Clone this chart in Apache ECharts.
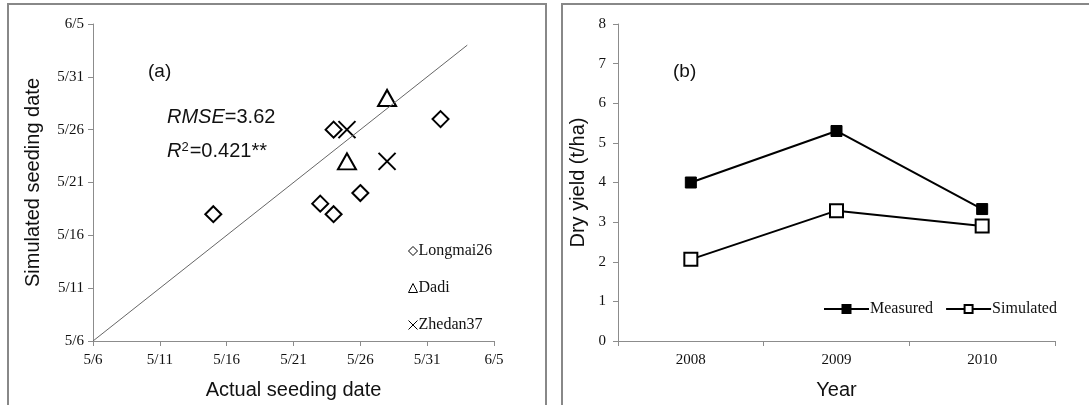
<!DOCTYPE html>
<html>
<head>
<meta charset="utf-8">
<title>Seeding date and dry yield</title>
<script src="https://cdn.jsdelivr.net/npm/echarts@6/dist/echarts.min.js"></script>
<style>
  html, body { margin: 0; padding: 0; background: #fff; }
  #chart { width: 1089px; height: 405px; }
</style>
</head>
<body>
<div id="chart"></div>
<script>
// Panel (a): actual vs simulated seeding date, as [actual, simulated] month/day pairs
const dateTicks = ['5/6', '5/11', '5/16', '5/21', '5/26', '5/31', '6/5'];
const longmai26 = [['5/15', '5/18'], ['5/24', '5/26'], ['5/23', '5/19'], ['5/24', '5/18'], ['5/26', '5/20'], ['6/1', '5/27']];
const dadi = [['5/28', '5/29'], ['5/25', '5/23']];
const zhedan37 = [['5/25', '5/26'], ['5/28', '5/23']];
const oneToOne = [['5/6', '5/6'], ['6/3', '6/3']];

// Panel (b): dry yield by year (t/ha)
const years = ['2008', '2009', '2010'];
const measured = [4.0, 5.3, 3.33];
const simulated = [2.06, 3.29, 2.9];

// Day offset from the first tick date (5/6)
const monthStart = { 5: 0, 6: 31 };
function dayOffset(md) {
  const [m, d] = md.split('/').map(Number);
  return monthStart[m] + d - 6;
}
function toXY(pairs) { return pairs.map(p => [dayOffset(p[0]), dayOffset(p[1])]); }
const tickByOffset = {};
dateTicks.forEach(t => { tickByOffset[dayOffset(t)] = t; });

const serif = 'Liberation Serif';
const sans = 'Liberation Sans';
const axisGray = '#8c8c8c';

const crossPath = 'path://M0,0L10,10M10,0L0,10';

function valueAxisCommon() {
  return {
    axisLine: { show: true, lineStyle: { color: axisGray, width: 1 } },
    axisTick: { show: true, inside: false, length: 5, lineStyle: { color: axisGray } },
    splitLine: { show: false },
    axisLabel: { fontFamily: serif, fontSize: 15, color: '#111' },
    nameTextStyle: { fontFamily: sans, fontSize: 20, color: '#111' },
    nameLocation: 'middle'
  };
}

const chart = echarts.init(document.getElementById('chart'), null, { renderer: 'canvas' });

const option = {
  animation: false,
  backgroundColor: '#fff',
  grid: [
    { left: 93, top: 24, width: 401, height: 319 },
    { left: 618, top: 24, width: 437, height: 319 }
  ],
  xAxis: [
    Object.assign(valueAxisCommon(), {
      type: 'value', gridIndex: 0, min: 0, max: 30, interval: 5,
      name: 'Actual seeding date', nameGap: 39,
      axisLabel: { fontFamily: serif, fontSize: 15, color: '#111', margin: 12,
        formatter: v => tickByOffset[v] || '' }
    }),
    Object.assign(valueAxisCommon(), {
      type: 'category', gridIndex: 1, data: years, boundaryGap: true,
      name: 'Year', nameGap: 39,
      axisLabel: { fontFamily: serif, fontSize: 15, color: '#111', margin: 12 }
    })
  ],
  yAxis: [
    Object.assign(valueAxisCommon(), {
      type: 'value', gridIndex: 0, min: 0, max: 30, interval: 5,
      name: 'Simulated seeding date', nameGap: 50,
      axisLabel: { fontFamily: serif, fontSize: 15, color: '#111', margin: 9,
        formatter: v => tickByOffset[v] || '' }
    }),
    Object.assign(valueAxisCommon(), {
      type: 'value', gridIndex: 1, min: 0, max: 8, interval: 1,
      name: 'Dry yield (t/ha)', nameGap: 30,
      axisLabel: { fontFamily: serif, fontSize: 15, color: '#111', margin: 12 }
    })
  ],
  legend: [
    {
      orient: 'vertical', left: 401, top: 238, itemGap: 21,
      itemWidth: 9, itemHeight: 9,
      data: ['Longmai26', 'Dadi', 'Zhedan37'],
      itemStyle: { borderWidth: 1 },
      textStyle: { fontFamily: serif, fontSize: 16, color: '#111', padding: [0, 0, 0, -4] }
    },
    {
      orient: 'horizontal', left: 818, top: 296, itemGap: 12,
      itemWidth: 45, itemHeight: 10,
      data: ['Measured', 'Simulated'],
      textStyle: { fontFamily: serif, fontSize: 16, color: '#111', padding: [0, 0, 0, -4] }
    }
  ],
  series: [
    {
      name: '1:1', type: 'line', xAxisIndex: 0, yAxisIndex: 0,
      data: toXY(oneToOne), symbol: 'none', silent: true,
      lineStyle: { color: '#666', width: 1 }
    },
    {
      name: 'Longmai26', type: 'scatter', xAxisIndex: 0, yAxisIndex: 0,
      data: toXY(longmai26), symbol: 'diamond', symbolSize: [16, 16],
      itemStyle: { color: '#fff', borderColor: '#000', borderWidth: 2, opacity: 1 }
    },
    {
      name: 'Dadi', type: 'scatter', xAxisIndex: 0, yAxisIndex: 0,
      data: toXY(dadi), symbol: 'triangle', symbolSize: [18, 16],
      itemStyle: { color: '#fff', borderColor: '#000', borderWidth: 2, opacity: 1 }
    },
    {
      name: 'Zhedan37', type: 'scatter', xAxisIndex: 0, yAxisIndex: 0,
      data: toXY(zhedan37), symbol: crossPath, symbolSize: [17, 17],
      itemStyle: { color: 'none', borderColor: '#000', borderWidth: 2, opacity: 1 }
    },
    {
      name: 'Measured', type: 'line', xAxisIndex: 1, yAxisIndex: 1,
      data: measured, symbol: 'rect', symbolSize: 11, showAllSymbol: true,
      lineStyle: { color: '#000', width: 2 },
      itemStyle: { color: '#000', borderColor: '#000', borderWidth: 1 }
    },
    {
      name: 'Simulated', type: 'line', xAxisIndex: 1, yAxisIndex: 1,
      data: simulated, symbol: 'rect', symbolSize: 13, showAllSymbol: true,
      lineStyle: { color: '#000', width: 2 },
      itemStyle: { color: '#fff', borderColor: '#000', borderWidth: 2 }
    }
  ],
  graphic: [
    // panel frames
    { type: 'rect', shape: { x: 8, y: 4, width: 538, height: 420 }, silent: true, z: -1,
      style: { fill: 'none', stroke: '#888', lineWidth: 2 } },
    { type: 'rect', shape: { x: 562, y: 4, width: 560, height: 420 }, silent: true, z: -1,
      style: { fill: 'none', stroke: '#888', lineWidth: 2 } },
    { type: 'text', left: 148, top: 62,
      style: { text: '(a)', font: '19px "Liberation Sans"', fill: '#111' } },
    { type: 'text', left: 673, top: 62,
      style: { text: '(b)', font: '19px "Liberation Sans"', fill: '#111' } },
    { type: 'text', left: 167, top: 107,
      style: {
        text: '{i|RMSE}{n|=3.62}',
        rich: {
          i: { fontFamily: sans, fontSize: 20, fontStyle: 'italic', fill: '#111' },
          n: { fontFamily: sans, fontSize: 20, fill: '#111' }
        }
      } },
    { type: 'text', left: 167, top: 141,
      style: {
        text: '{i|R}{s|2}{n|=0.421**}',
        rich: {
          i: { fontFamily: sans, fontSize: 20, fontStyle: 'italic', fill: '#111' },
          s: { fontFamily: sans, fontSize: 13, fill: '#111', verticalAlign: 'top', padding: [0, 1, 8, 0] },
          n: { fontFamily: sans, fontSize: 20, fill: '#111' }
        }
      } }
  ]
};

chart.setOption(option);
</script>
</body>
</html>
